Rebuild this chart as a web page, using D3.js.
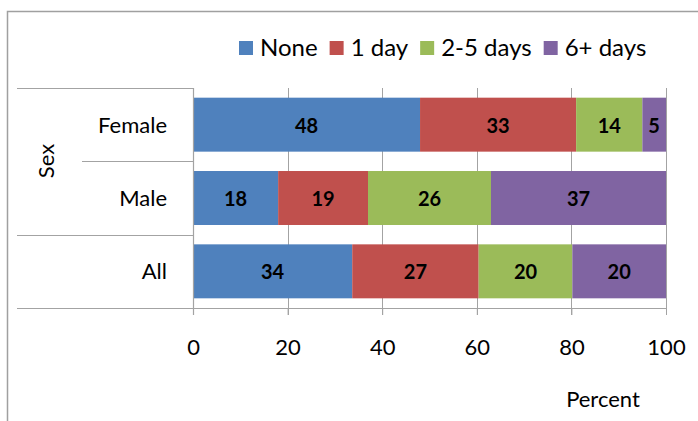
<!DOCTYPE html>
<html>
<head>
<meta charset="utf-8">
<script src="https://cdn.jsdelivr.net/npm/d3@7"></script>
<style>
  html, body { margin: 0; padding: 0; background: #fff; }
  svg { display: block; font-family: Lato, "Liberation Sans", sans-serif; }
</style>
</head>
<body>
<svg id="chart" width="698" height="421"></svg>
<script>
// Days of activity by sex (percent of respondents)
const categories = ["Female", "Male", "All"];
const seriesNames = ["None", "1 day", "2-5 days", "6+ days"];
const noneValues = [48, 18, 34];
const oneDayValues = [33, 19, 27];
const twoToFiveValues = [14, 26, 20];
const sixPlusValues = [5, 37, 20];
const tickValues = [0, 20, 40, 60, 80, 100];
const groupLabel = "Sex";
const axisTitle = "Percent";
const colors = ["#4F81BD", "#C0504D", "#9BBB59", "#8064A2"];

const seriesValues = [noneValues, oneDayValues, twoToFiveValues, sixPlusValues];
const rows = categories.map((c, i) => {
  const r = { category: c };
  seriesNames.forEach((s, j) => { r[s] = seriesValues[j][i]; });
  return r;
});

const svg = d3.select("#chart");
const gridColor = "#a3a3a3";

// Chart frame
svg.append("path")
  .attr("d", "M7.5,421 V11.5 H698")
  .attr("fill", "none").attr("stroke", "#a0a0a0").attr("stroke-width", 1.5);

const plotLeft = 193, plotRight = 666, plotTop = 88, plotBottom = 308;

const x = d3.scaleLinear().domain([0, 100]).range([plotLeft, plotRight]);
const y = d3.scaleBand().domain(categories).range([plotTop, plotBottom])
  .paddingInner(0.264).paddingOuter(0.132);

// 100% stacked layout
const stacked = d3.stack().keys(seriesNames).offset(d3.stackOffsetExpand)(rows);

// Vertical gridlines
svg.append("g").selectAll("line").data(tickValues).join("line")
  .attr("x1", d => Math.round(x(d)) + 0.5).attr("x2", d => Math.round(x(d)) + 0.5)
  .attr("y1", plotTop).attr("y2", plotBottom + 7)
  .attr("stroke", gridColor).attr("stroke-width", 1);

// Category table lines on the left
const step = y.step();
const sepLines = [
  { x1: 17, y: plotTop },
  { x1: 82, y: plotTop + step },
  { x1: 17, y: plotTop + 2 * step },
  { x1: 17, y: plotBottom }
];
svg.append("g").selectAll("line").data(sepLines).join("line")
  .attr("x1", d => d.x1).attr("x2", plotLeft)
  .attr("y1", d => Math.round(d.y) + 0.5).attr("y2", d => Math.round(d.y) + 0.5)
  .attr("stroke", gridColor).attr("stroke-width", 1.2);

// Bars
const layer = svg.append("g").selectAll("g").data(stacked).join("g")
  .attr("fill", (d, i) => colors[i]);
layer.selectAll("rect").data(d => d.map(p => ({ p, key: d.key }))).join("rect")
  .attr("x", d => x(d.p[0] * 100))
  .attr("width", d => x(d.p[1] * 100) - x(d.p[0] * 100))
  .attr("y", d => y(d.p.data.category))
  .attr("height", y.bandwidth());

// Value labels
layer.selectAll("text").data(d => d.map(p => ({ p, key: d.key }))).join("text")
  .attr("x", d => x((d.p[0] + d.p[1]) * 50))
  .attr("y", d => y(d.p.data.category) + y.bandwidth() / 2)
  .attr("text-anchor", "middle").attr("dominant-baseline", "central")
  .attr("fill", "#000").attr("font-weight", "bold").attr("font-size", 20)
  .text(d => d.p.data[d.key]);

// Axes
const xAxis = svg.append("g").attr("transform", `translate(0,${plotBottom})`)
  .call(d3.axisBottom(x).tickValues(tickValues).tickSize(7).tickPadding(24));
xAxis.select(".domain").attr("d", `M${plotLeft},0.5H${plotRight}`).attr("stroke", gridColor);
xAxis.selectAll(".tick line").attr("stroke", gridColor);
xAxis.selectAll("text").attr("font-size", 22).attr("font-family", "Lato").attr("fill", "#000");

svg.append("line")
  .attr("x1", plotLeft + 0.5).attr("x2", plotLeft + 0.5).attr("y1", plotTop).attr("y2", plotBottom + 7)
  .attr("stroke", gridColor).attr("stroke-width", 1.2);

const yAxis = svg.append("g").attr("transform", `translate(${plotLeft},0)`)
  .call(d3.axisLeft(y).tickSize(0).tickPadding(26));
yAxis.select(".domain").remove();
yAxis.selectAll("text").attr("font-size", 22).attr("font-family", "Lato").attr("fill", "#000")
  .attr("dy", "0.36em");

// Group label
svg.append("text")
  .attr("transform", "translate(45,161) rotate(-90)")
  .attr("text-anchor", "middle").attr("dominant-baseline", "central")
  .attr("font-size", 22).attr("fill", "#000")
  .text(groupLabel);

// Axis title
svg.append("text")
  .attr("x", 603).attr("y", 407)
  .attr("text-anchor", "middle").attr("font-size", 22).attr("fill", "#000")
  .text(axisTitle);

// Legend
const legend = svg.append("g");
let lx = 239;
seriesNames.forEach((name, i) => {
  legend.append("rect").attr("x", lx).attr("y", 41).attr("width", 14).attr("height", 14)
    .attr("fill", colors[i]);
  const t = legend.append("text").attr("x", lx + 21).attr("y", 56)
    .attr("font-size", 24).attr("fill", "#000").text(name);
  lx += 21 + t.node().getComputedTextLength() + 12;
});
</script>
</body>
</html>
